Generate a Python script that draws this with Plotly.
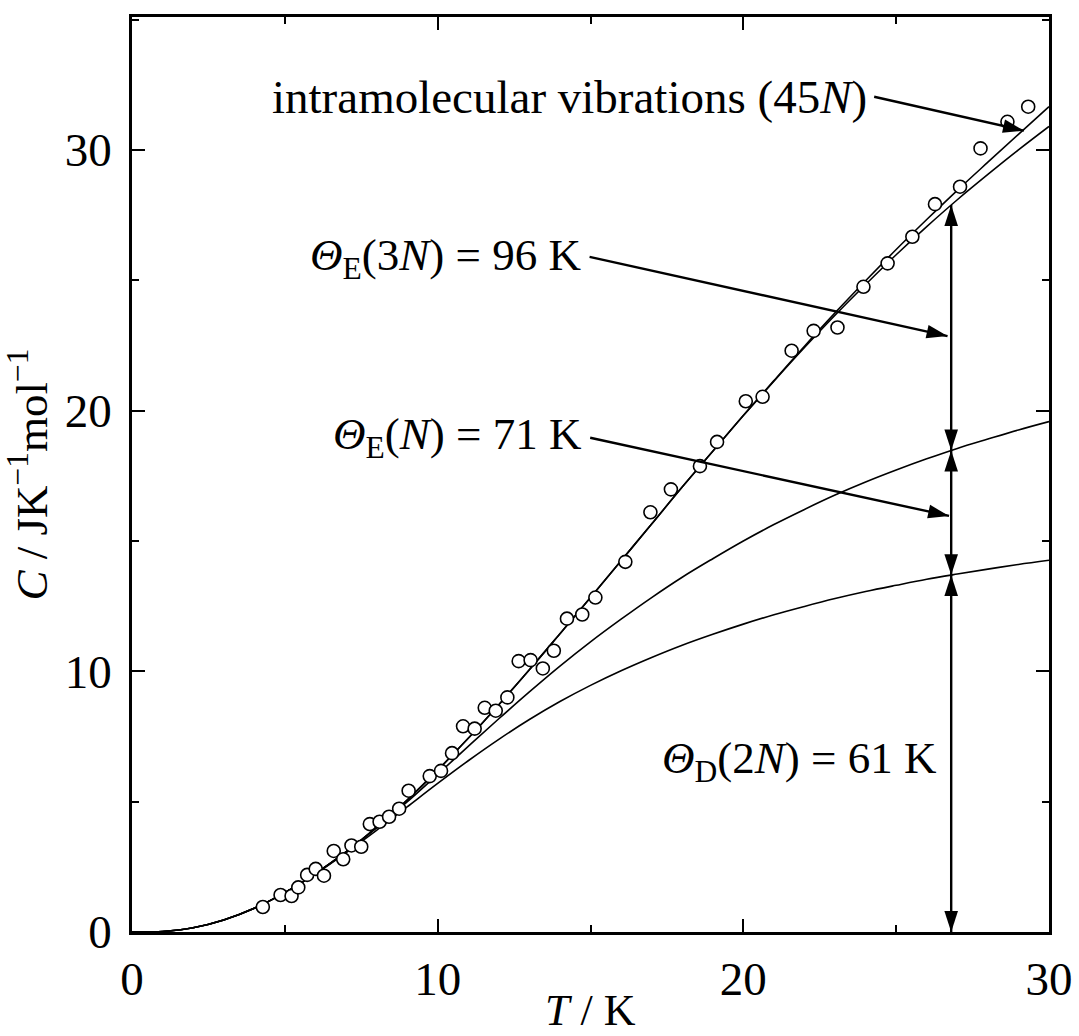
import math
import numpy as np
import plotly.graph_objects as go

# ---- measured heat capacity (open circles) ----
T_obs = [4.28, 4.86, 5.22, 5.44, 5.73, 6.01, 6.28, 6.60, 6.91, 7.18, 7.50, 7.78, 8.10, 8.41, 8.74,
         9.05, 9.74, 10.11, 10.47, 10.83, 11.21, 11.54, 11.90, 12.28, 12.65, 13.04, 13.44, 13.80,
         14.23, 14.73, 15.16, 16.14, 16.96, 17.63, 18.58, 19.14, 20.08, 20.63, 21.58, 22.30, 23.08,
         23.93, 24.72, 25.53, 26.27, 27.09, 27.76, 28.64, 29.32]
C_obs = [0.96, 1.42, 1.38, 1.71, 2.19, 2.42, 2.16, 3.11, 2.79, 3.32, 3.27, 4.14, 4.23, 4.42, 4.73,
         5.42, 5.98, 6.18, 6.86, 7.89, 7.80, 8.60, 8.49, 9.00, 10.39, 10.43, 10.11, 10.79,
         12.02, 12.18, 12.83, 14.20, 16.10, 16.98, 17.87, 18.80, 20.36, 20.53, 22.30, 23.06, 23.19,
         24.75, 25.65, 26.67, 27.92, 28.59, 30.06, 31.08, 31.66]

# ---- model curves ----
T_curve = list(range(0, 31))
C_debye = [0, 0.02, 0.16, 0.46, 0.91, 1.51, 2.23, 3.04, 3.90, 4.80, 5.70, 6.57, 7.39, 8.15,
           8.84, 9.46, 10.02, 10.53, 11.00, 11.42, 11.81, 12.17, 12.49, 12.79, 13.06, 13.30,
           13.53, 13.73, 13.92, 14.10, 14.26]
C_debye_einN = [0, 0.02, 0.16, 0.46, 0.91, 1.51, 2.24, 3.07, 3.99, 4.99, 6.05, 7.12, 8.18, 9.21,
                10.20, 11.13, 12.00, 12.83, 13.61, 14.32, 15.00, 15.63, 16.21, 16.76, 17.26,
                17.72, 18.15, 18.55, 18.91, 19.26, 19.58]
C_lattice = [0, 0.02, 0.16, 0.46, 0.91, 1.51, 2.24, 3.07, 4.01, 5.06, 6.21, 7.43, 8.72, 10.06,
             11.44, 12.83, 14.24, 15.65, 17.07, 18.44, 19.81, 21.13, 22.42, 23.66, 24.84, 25.98,
             27.06, 28.09, 29.06, 30.00, 30.90]
C_total = [0, 0.02, 0.16, 0.46, 0.91, 1.51, 2.24, 3.07, 4.01, 5.06, 6.21, 7.43, 8.72, 10.06,
           11.44, 12.83, 14.24, 15.65, 17.07, 18.44, 19.81, 21.15, 22.47, 23.75, 24.98, 26.18,
           27.33, 28.45, 29.53, 30.60, 31.66]

# ---- texts ----
label_intra = "intramolecular vibrations (45<i>N</i>)"
label_E3N = "<i>Θ</i><sub>E</sub>(3<i>N</i>) = 96 K"
label_EN = "<i>Θ</i><sub>E</sub>(<i>N</i>) = 71 K"
label_D2N = "<i>Θ</i><sub>D</sub>(2<i>N</i>) = 61 K"
x_title = "<i>T</i> / K"
y_title = "<i>C</i> / JK<sup>−1</sup>mol<sup>−1</sup>"

# pointer arrows: (start T, start C, tip T, tip C)
pointer_intra = (24.28, 32.04, 29.18, 30.74)
pointer_E3N = (14.97, 25.90, 26.68, 22.86)
pointer_EN = (14.99, 18.96, 26.73, 15.96)
bracket_T = 26.8

X_RANGE = [0, 30]
Y_RANGE = [0, 35.1]
W, H = 1079, 1036
M = dict(l=132, r=30, t=17, b=104)
plot_w = W - M["l"] - M["r"]
plot_h = H - M["t"] - M["b"]
px_per_x = plot_w / (X_RANGE[1] - X_RANGE[0])
px_per_y = plot_h / (Y_RANGE[1] - Y_RANGE[0])

FONT = "Liberation Serif, Times New Roman, serif"
LW = 1.6

fig = go.Figure()

for ys in (C_debye, C_debye_einN, C_lattice, C_total):
    fig.add_trace(go.Scatter(x=T_curve, y=ys, mode="lines",
                             line=dict(color="black", width=LW, shape="spline", smoothing=1.0),
                             showlegend=False, hoverinfo="skip"))

fig.add_trace(go.Scatter(x=T_obs, y=C_obs, mode="markers",
                         marker=dict(symbol="circle", size=13, color="white",
                                     line=dict(color="black", width=1.6)),
                         showlegend=False))

# slanted pointer arrows
for (x0, y0, x1, y1) in (pointer_intra, pointer_E3N, pointer_EN):
    dx = (x1 - x0) * px_per_x
    dy_screen = -(y1 - y0) * px_per_y
    ang = math.degrees(math.atan2(dx, -dy_screen))
    fig.add_trace(go.Scatter(x=[x0, x1], y=[y0, y1], mode="lines",
                             line=dict(color="black", width=2.4),
                             showlegend=False, hoverinfo="skip"))
    fig.add_trace(go.Scatter(x=[x1], y=[y1], mode="markers",
                             marker=dict(symbol="arrow", size=22, angle=ang,
                                         color="black", line=dict(width=0)),
                             showlegend=False, hoverinfo="skip"))

# vertical double-headed brackets
yA = float(np.interp(bracket_T, T_curve, C_debye))
yB = float(np.interp(bracket_T, T_curve, C_debye_einN))
yC = float(np.interp(bracket_T, T_curve, C_lattice))
fig.add_trace(go.Scatter(x=[bracket_T, bracket_T], y=[0, yC], mode="lines",
                         line=dict(color="black", width=2.4), showlegend=False, hoverinfo="skip"))
fig.add_trace(go.Scatter(x=[bracket_T] * 6, y=[0, yA, yA, yB, yB, yC], mode="markers",
                         marker=dict(symbol="arrow", size=22, angle=[180, 0, 180, 0, 180, 0],
                                     color="black", line=dict(width=0)),
                         showlegend=False, hoverinfo="skip"))

annots = [
    dict(x=24.1, y=32.03, text=label_intra, xanchor="right", yanchor="middle", size=47),
    dict(x=14.74, y=25.85, text=label_E3N, xanchor="right", yanchor="middle", size=45),
    dict(x=14.8, y=19.0, text=label_EN, xanchor="right", yanchor="middle", size=45),
    dict(x=21.83, y=6.55, text=label_D2N, xanchor="center", yanchor="middle", size=45),
]
for a in annots:
    size = a.pop("size")
    fig.add_annotation(**a, xref="x", yref="y", showarrow=False,
                       font=dict(family=FONT, size=size, color="black"))

# x-axis title (paper annotation so it stays inside the canvas)
fig.add_annotation(x=0.5, y=-78 / plot_h, xref="paper", yref="paper", text=x_title,
                   showarrow=False, xanchor="center", yanchor="middle",
                   font=dict(family=FONT, size=44, color="black"))

axis_common = dict(
    showgrid=False, zeroline=False, showline=True, linecolor="black", linewidth=2.5,
    mirror="ticks", ticks="inside", ticklen=13, tickwidth=2.2, tickcolor="black",
    tickfont=dict(family=FONT, size=47, color="black"), automargin=False,
)

fig.update_xaxes(**axis_common, range=X_RANGE, tickvals=[0, 10, 20, 30], ticklabelstandoff=4,
                 minor=dict(tickvals=[5, 15, 25], ticks="inside", ticklen=7, tickwidth=2.2,
                            tickcolor="black"))
fig.update_yaxes(**axis_common, range=Y_RANGE, tickvals=[0, 10, 20, 30], ticklabelstandoff=8,
                 minor=dict(tickvals=[5, 15, 25, 35], ticks="inside", ticklen=7, tickwidth=2.2,
                            tickcolor="black"),
                 title=dict(text=y_title, font=dict(family=FONT, size=45, color="black"),
                            standoff=12))

fig.update_layout(width=W, height=H, margin=M,
                  paper_bgcolor="white", plot_bgcolor="white", showlegend=False)

# remove the browser's default page margin so the figure fills the window exactly
fig.write_html("out.html", config={"displayModeBar": False},
               post_script="document.body.style.margin='0';")
